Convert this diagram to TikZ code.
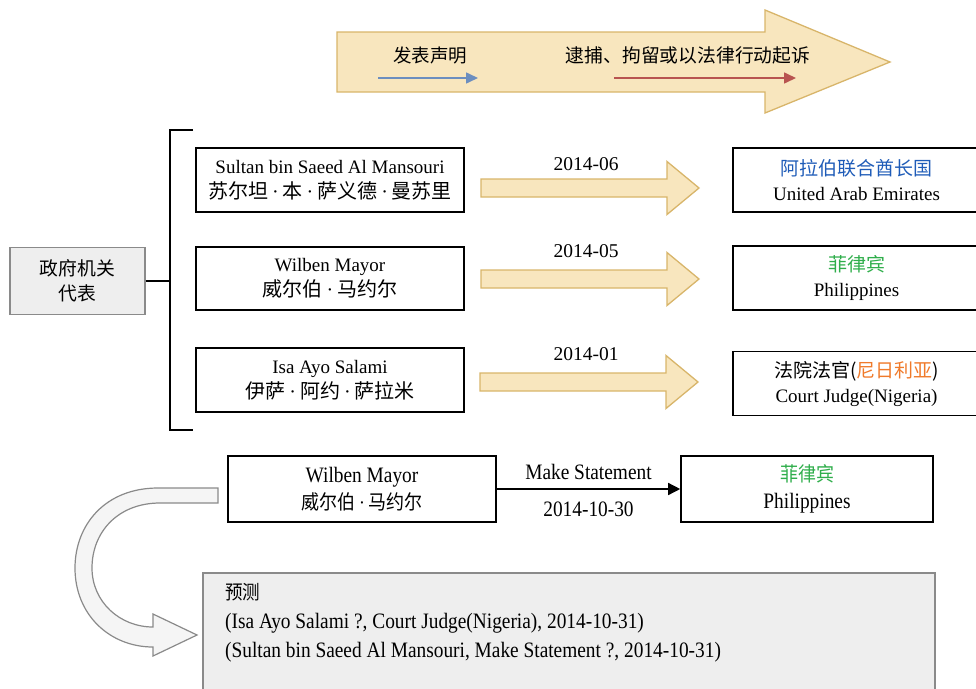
\documentclass[tikz,border=0pt]{standalone}
\usepackage{fontspec}
\setmainfont{Liberation Serif}
\newfontfamily\cjk{Noto Sans CJK SC}
\newfontfamily\condfont[FakeStretch=0.88]{Liberation Serif}
\newfontfamily\condcjk[FakeStretch=0.9]{Noto Sans CJK SC}
\newcommand\md{{\rmfamily\hspace{0.2em}·\hspace{0.2em}}}
\newcommand\mdc{{\condfont\,·\,}}
\usetikzlibrary{arrows.meta}
\definecolor{beige}{HTML}{F8E6BE}
\definecolor{beigeline}{HTML}{D8B56A}
\definecolor{arrblue}{HTML}{6C8EBF}
\definecolor{arrred}{HTML}{B85450}
\definecolor{txtblue}{HTML}{1F5CB8}
\definecolor{txtgreen}{HTML}{2FAE4B}
\definecolor{txtorange}{HTML}{F07A2A}
\definecolor{lgray}{HTML}{EEEEEE}
\definecolor{mgray}{HTML}{8A8A8A}
\begin{document}
\begin{tikzpicture}[x=1pt,y=-1pt,
  box/.style={draw=black, line width=1.6pt, fill=white, minimum width=268pt, minimum height=64pt, align=center, inner sep=0pt, font=\fontsize{19}{25}\selectfont},
  rbox/.style={box, minimum width=247pt},
  lbl/.style={inner sep=0pt, font=\fontsize{19.5}{20}\selectfont},
  fatstyle/.style={draw=beigeline, line width=1.3pt, fill=beige, line join=miter},
  fat/.pic={\path[fatstyle] (0,-9) -- (186,-9) -- (186,-26.5) -- (218,0) -- (186,26.5) -- (186,9) -- (0,9) -- cycle;},
  cbox/.style={draw=black, line width=1.6pt, fill=white, minimum height=66pt, align=center, inner sep=0pt, font=\condfont\fontsize{22}{27}\selectfont},
  cf/.style={font=\condfont\fontsize{22}{24}\selectfont}
]
\useasboundingbox (0,0) rectangle (976,688);

% top legend arrow
\path[fatstyle] (337,32) -- (765,32) -- (765,10) -- (890,62) -- (765,113) -- (765,92) -- (337,92) -- cycle;
\node[lbl, font=\cjk\fontsize{18.5}{20}\selectfont] (fb) at (430,55) {发表声明};
\node[lbl, font=\cjk\fontsize{18.8}{20}\selectfont] (db) at (688,55) {逮捕、拘留或以法律行动起诉};
\coordinate (b1) at (378,78); \coordinate (b2) at (478,78);
\coordinate (r1) at (614,78); \coordinate (r2) at (796,78);
\draw[arrblue, line width=1.6pt, -{Triangle[length=12pt,width=11pt]}] (b1) -- (b2);
\draw[arrred, line width=1.6pt, -{Triangle[length=12pt,width=11pt]}] (r1) -- (r2);

% left box and bracket
\node[draw=mgray, line width=1.3pt, fill=lgray, minimum width=135pt, minimum height=67pt, align=center, inner sep=0pt, font=\cjk\fontsize{18.8}{25}\selectfont] (gov) at (77.5,281) {政府机关\\代表};
\coordinate (bm) at (170,281);
\coordinate (bt) at (193,130); \coordinate (btc) at (170,130);
\coordinate (bb) at (193,430); \coordinate (bbc) at (170,430);
\draw[line width=1.6pt] (gov.east) -- (bm);
\draw[line width=1.6pt] (bt) -- (btc) -- (bbc) -- (bb);

% person boxes
\node[box] (p1) at (330,180) {Sultan bin Saeed Al Mansouri\\{\cjk\fontsize{20}{25}\selectfont 苏尔坦\md 本\md 萨义德\md 曼苏里}};
\node[box, minimum height=63pt] (p2) at (330,278.5) {Wilben Mayor\\{\cjk\fontsize{20}{25}\selectfont 威尔伯\md 马约尔}};
\node[box] (p3) at (330,380) {Isa Ayo Salami\\{\cjk\fontsize{20}{25}\selectfont 伊萨\md 阿约\md 萨拉米}};

% fat arrows
\pic at (481,188) {fat};
\pic at (481,279) {fat};
\pic at (480,382) {fat};
\node[lbl] (d1) at (586,164) {2014-06};
\node[lbl] (d2) at (586,251) {2014-05};
\node[lbl] (d3) at (586,354) {2014-01};

% right boxes
\node[rbox] (c1) at (856.5,180) {{\cjk\color{txtblue}阿拉伯联合酋长国}\\United Arab Emirates};
\node[rbox] (c2) at (856.5,278) {{\cjk\color{txtgreen}菲律宾}\\Philippines};
\node[rbox] (c3) at (856.5,383.5) {{\cjk 法院法官(\textcolor{txtorange}{尼日利亚})}\\Court Judge(Nigeria)};

% bottom: event
\node[cbox, minimum width=268pt] (wb) at (362,489) {Wilben Mayor\\{\condcjk\fontsize{20}{27}\selectfont 威尔伯\mdc 马约尔}};
\node[cbox, minimum width=252pt] (ph) at (807,489) {{\condcjk\fontsize{20}{27}\selectfont\color{txtgreen}菲律宾}\\Philippines};
\draw[line width=1.4pt, -{Triangle[length=12pt,width=12pt]}] (wb.east) -- (ph.west)
  node[pos=0.5, above=9pt, inner sep=0pt, cf] (ms) {Make Statement}
  node[pos=0.5, below=12pt, inner sep=0pt, cf] (dt) {2014-10-30};

% prediction box
\node[draw=mgray, line width=1.3pt, fill=lgray, minimum width=732pt, minimum height=127pt, inner sep=0pt] (pred) at (569,636.5) {};
\node[anchor=west, inner sep=0pt, font=\condcjk\fontsize{19.5}{20}\selectfont] (pt) at (225,592) {预测};
\node[anchor=west, inner sep=0pt, cf] (pl1) at (225,623) {(Isa Ayo Salami ?, Court Judge(Nigeria), 2014-10-31)};
\node[anchor=west, inner sep=0pt, cf] (pl2) at (225,652) {(Sultan bin Saeed Al Mansouri, Make Statement ?, 2014-10-31)};

% curved gray arrow
\path[draw=mgray, line width=1.2pt, fill=white!96!black, line join=miter]
  (218,488) -- (158,488) .. controls (105,488) and (75,525) .. (75,568)
  .. controls (75,615) and (110,647) .. (153,647)
  -- (153,656) -- (197,635) -- (153,614) -- (153,627)
  .. controls (120,627) and (92,602) .. (92,568)
  .. controls (92,532) and (118,503) .. (160,503) -- (218,503) -- cycle;
\end{tikzpicture}
\end{document}
